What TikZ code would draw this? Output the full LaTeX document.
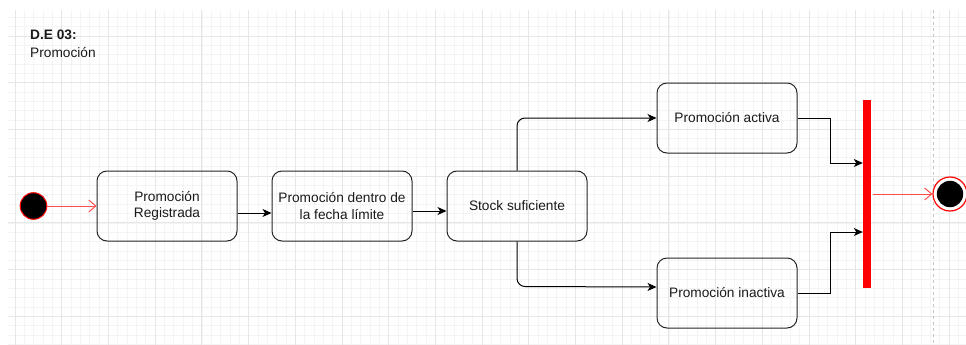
\documentclass[tikz,border=0pt]{standalone}
\usepackage{fontspec}
\setmainfont{Liberation Sans}
\usetikzlibrary{arrows.meta}
\definecolor{gridminor}{HTML}{F4F4F4}
\definecolor{gridmajor}{HTML}{E6E6E6}
\definecolor{flowred}{HTML}{FF4D4D}
\definecolor{guide}{HTML}{C4C4C4}
\definecolor{ink}{HTML}{1A1A1A}
\tikzset{
  state/.style={draw=black!85, line width=1pt, rounded corners=10pt,
    minimum width=140pt, minimum height=70pt, inner sep=2pt, align=center,
    text=ink, font=\fontsize{13.7}{16.3}\selectfont},
  flow/.style={draw=black, line width=1pt,
    -{Stealth[length=9pt,width=8pt,inset=2.5pt]}},
  redflow/.style={draw=flowred, line width=1pt,
    -{Straight Barb[length=7pt,width=12pt,line width=1pt]}},
  initial state/.style={circle, draw=red, fill=black, line width=1pt,
    minimum size=26.6pt, inner sep=0pt},
  final state/.style={circle, draw=red, fill=white, line width=1.2pt,
    minimum size=34pt, inner sep=0pt,
    path picture={\fill[black] (path picture bounding box.center) circle (13.2pt);}},
  join bar/.style={fill=red, minimum width=8pt, minimum height=188pt, inner sep=0pt},
  caption/.style={anchor=base west, inner sep=0pt, text=ink,
    font=\fontsize{13.7}{16.3}\selectfont},
}
\begin{document}
\begin{tikzpicture}[x=1pt, y=-1pt]
  \useasboundingbox (0,0) rectangle (966,345);
  \fill[white] (0,0) rectangle (966,345);

  % background grid
  \begin{scope}
    \clip (8,10) rectangle (966,345);
    \foreach \i in {0,...,101}
      \draw[gridminor, line width=0.6pt] ({15+\i*9.34},10) -- ({15+\i*9.34},345);
    \foreach \j in {0,...,35}
      \draw[gridminor, line width=0.6pt] (8,{17.32+\j*9.34}) -- (966,{17.32+\j*9.34});
    \foreach \i in {0,...,20}
      \draw[gridmajor, line width=0.8pt] ({15+\i*46.7},10) -- ({15+\i*46.7},345);
    \foreach \j in {0,...,6}
      \draw[gridmajor, line width=0.8pt] (8,{36+\j*46.7}) -- (966,{36+\j*46.7});
  \end{scope}

  % page boundary guide
  \draw[guide, line width=1pt, dash pattern=on 3pt off 3pt] (933,10) -- (933,345);

  % title
  \node[caption, font=\fontsize{13.7}{16.3}\selectfont\bfseries] (title) at (30,40) {D.E 03:};
  \node[caption] (subtitle) at (30,57) {Promoción};

  % states
  \node[initial state] (s) at (33.5,206) {};
  \node[state] (b1) at (167,206) {Promoción\\Registrada};
  \node[state] (b2) at (342,206) {Promoción dentro de\\la fecha límite};
  \node[state] (b3) at (517,206) {Stock suficiente};
  \node[state] (b4) at (727,118) {Promoción activa};
  \node[state] (b5) at (727,293) {Promoción inactiva};
  \node[join bar] (bar) at (867,194) {};
  \node[final state] (fin) at (950,194) {};

  \coordinate (j1) at (863,163);
  \coordinate (j2) at (863,232);

  % transitions
  \draw[redflow] (s) -- (b1);
  \draw[flow] ([yshift=-7pt]b1.east) -- ([yshift=-7pt]b2.west);
  \draw[flow] ([yshift=-5pt]b2.east) -- ([yshift=-5pt]b3.west);
  \draw[flow, rounded corners=8pt] (b3.north) |- (b4.west);
  \draw[flow, rounded corners=8pt] (b3.south) -- ++(0,45) -- ([yshift=6pt]b5.west);
  \draw[flow] (b4.east) -| ++(33,45) -- (bar.west |- j1);
  \draw[flow] (b5.east) -| ++(33,-61) -- (bar.west |- j2);
  \draw[redflow] ([xshift=2pt]bar.east) -- (fin.west);
\end{tikzpicture}
\end{document}
